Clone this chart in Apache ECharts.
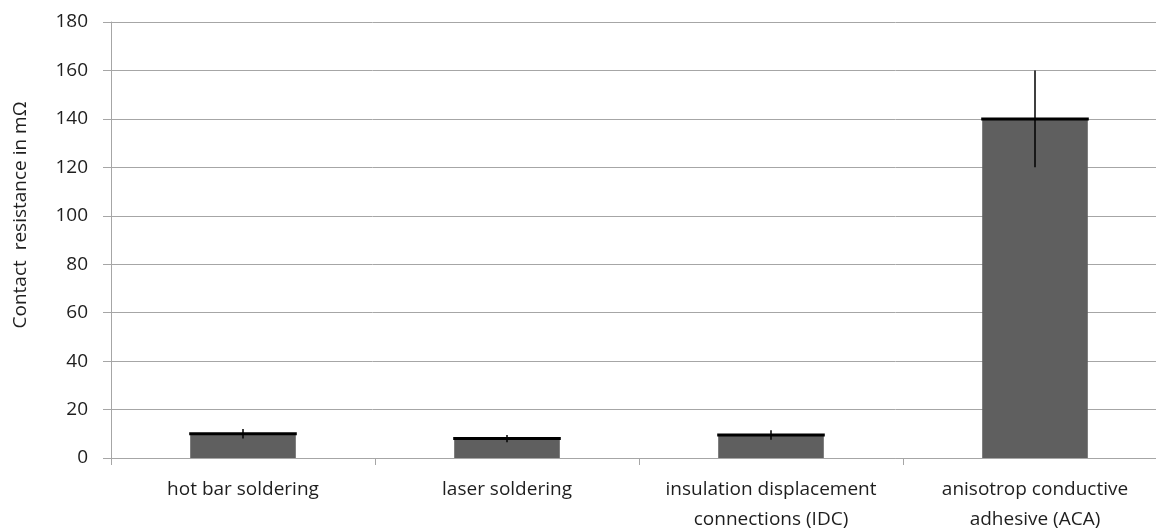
<!DOCTYPE html>
<html>
<head>
<meta charset="utf-8">
<script src="https://cdn.jsdelivr.net/npm/echarts@6/dist/echarts.min.js"></script>
<style>
  html, body { margin: 0; padding: 0; background: #fff; overflow: hidden; }
  #chart { width: 1156px; height: 532px; }
</style>
</head>
<body>
<div id="chart"></div>
<script>
// Contact resistance of the joining methods, mean and spread in mΩ
const categories = [
  'hot bar soldering',
  'laser soldering',
  'insulation displacement\nconnections (IDC)',
  'anisotrop conductive\nadhesive (ACA)'
];
const resistance = [10, 8, 9.5, 140];
const spread = [2, 1.5, 2, 20];
const yTicks = [0, 20, 40, 60, 80, 100, 120, 140, 160, 180];

const FONT = '"Open Sans", sans-serif';
const TEXT = '#1e1e1e';
const GRID = '#a6a6a6';
const BAR_SHARE = 0.4;

const chart = echarts.init(document.getElementById('chart'));

chart.setOption({
  animation: false,
  // the plot area runs a little past the right edge of the canvas
  grid: {
    left: 111, top: 22, height: 436, width: 1056,
    containLabel: false, outerBoundsMode: 'none'
  },
  xAxis: {
    type: 'category',
    data: categories,
    axisLine: { lineStyle: { color: GRID, width: 1 } },
    axisTick: { show: true, length: 7, lineStyle: { color: GRID } },
    axisLabel: {
      color: TEXT, fontFamily: FONT, fontSize: 19, fontWeight: 500,
      lineHeight: 30, margin: 17, interval: 0
    },
    splitLine: { show: false }
  },
  yAxis: {
    type: 'value',
    min: yTicks[0],
    max: yTicks[yTicks.length - 1],
    interval: yTicks[1] - yTicks[0],
    axisLine: { show: true, lineStyle: { color: GRID, width: 1 } },
    axisTick: { show: true, length: 8, lineStyle: { color: GRID } },
    axisLabel: {
      color: TEXT, fontFamily: FONT, fontSize: 19, fontWeight: 500, margin: 23
    },
    splitLine: { show: true, lineStyle: { color: GRID, width: 1 } }
  },
  graphic: [{
    type: 'text',
    x: 21, y: 215,
    rotation: Math.PI / 2,
    style: {
      text: 'Contact  resistance in mΩ',
      fill: TEXT, font: '500 19px ' + FONT,
      align: 'center', verticalAlign: 'middle'
    }
  }],
  series: [
    {
      type: 'bar',
      data: resistance,
      barWidth: (BAR_SHARE * 100) + '%',
      itemStyle: { color: '#5f5f5f' },
      z: 2
    },
    {
      // black cap line on each bar plus the vertical spread line
      type: 'custom',
      data: resistance.map((v, i) => [i, v, spread[i]]),
      z: 3,
      renderItem: function (params, api) {
        const i = api.value(0), v = api.value(1), e = api.value(2);
        const top = api.coord([i, v]);
        const hi = api.coord([i, v + e]);
        const lo = api.coord([i, v - e]);
        const w = api.size([1, 0])[0] * BAR_SHARE + 2;
        return {
          type: 'group',
          children: [
            {
              type: 'line',
              shape: { x1: top[0] - w / 2, y1: top[1], x2: top[0] + w / 2, y2: top[1] },
              style: { stroke: '#000', lineWidth: 3 }
            },
            {
              type: 'line',
              shape: { x1: hi[0], y1: hi[1], x2: lo[0], y2: lo[1] },
              style: { stroke: '#000', lineWidth: 1.5 }
            }
          ]
        };
      }
    }
  ]
});
</script>
</body>
</html>
